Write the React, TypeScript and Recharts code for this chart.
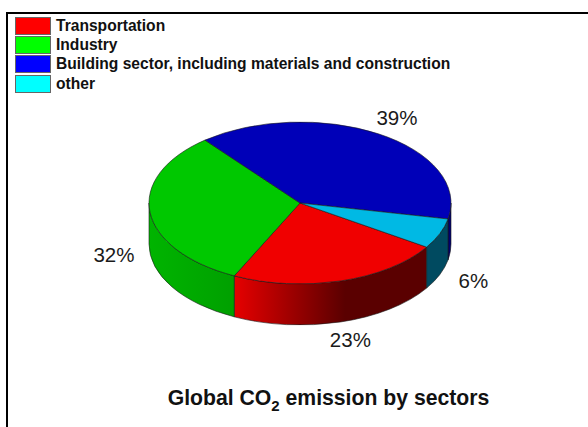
import { Legend, Pie, PieChart } from "recharts";

// Global CO2 emission shares, in percent
const sectors = [
  "Transportation",
  "Industry",
  "Building sector, including materials and construction",
  "other",
];
const shares = [23, 32, 39, 6];
const topColors = ["#f00000", "#00c800", "#0000b8", "#00b9e4"];
const swatchColors = ["#ff0000", "#00ff00", "#0000ff", "#00ffff"];
const wallFills = ["url(#wallRed)", "url(#wallGreen)", "#00006e", "#004a60"];

const data = sectors.map((name, i) => ({ name, value: shares[i], fill: topColors[i] }));

const RX = 151;
const SQUASH = 0.536;
const DEPTH = 41;
const FONT = "'Liberation Sans', Arial, sans-serif";

// point on the top ellipse, angle in degrees counter-clockwise from east
const pt = (cx: number, cy: number, deg: number, dy = 0) => {
  const r = (deg * Math.PI) / 180;
  return [cx + RX * Math.cos(r), cy - RX * SQUASH * Math.sin(r) + dy];
};

const arc = (to: number[], sweep: number, large: number) =>
  `A ${RX} ${RX * SQUASH} 0 ${large} ${sweep} ${to[0]} ${to[1]}`;

// Sector drawn as a squashed slice plus the visible part of its side wall
function Slice(props: any) {
  const { cx, cy, startAngle, endAngle, fill, name } = props;
  const hi = Math.max(startAngle, endAngle);
  const lo = Math.min(startAngle, endAngle);
  const a = pt(cx, cy, hi);
  const b = pt(cx, cy, lo);
  const large = hi - lo > 180 ? 1 : 0;
  const top = `M ${cx} ${cy} L ${a[0]} ${a[1]} ${arc(b, 1, large)} Z`;

  // the wall only shows on the front half of the rim (180..360 degrees)
  const walls: string[] = [];
  for (const k of [-360, 0]) {
    const from = Math.max(lo, k - 180);
    const to = Math.min(hi, k);
    if (to > from) {
      const p = pt(cx, cy, to);
      const q = pt(cx, cy, from);
      const q2 = pt(cx, cy, from, DEPTH);
      const p2 = pt(cx, cy, to, DEPTH);
      walls.push(
        `M ${p[0]} ${p[1]} ${arc(q, 1, 0)} L ${q2[0]} ${q2[1]} ${arc(p2, 0, 0)} Z`
      );
    }
  }

  return (
    <g>
      {walls.map((d) => (
        <path key={d} d={d} fill={wallFills[sectors.indexOf(name)]} stroke="#1a1a1a" strokeWidth={0.6} />
      ))}
      <path d={top} fill={fill} stroke="#1a1a1a" strokeWidth={0.6} />
    </g>
  );
}

// Percent label placed around the rim, pushed below the wall on the front half
function PercentLabel(props: any) {
  const { cx, cy, midAngle, value } = props;
  const [x, y] = pt(cx, cy, midAngle);
  const lower = Math.sin((midAngle * Math.PI) / 180) < 0;
  return (
    <text
      x={cx + (x - cx) * 1.24}
      y={cy + (y - cy) * 1.24 + (lower ? DEPTH - 1 : 0)}
      textAnchor="middle"
      dominantBaseline="central"
      fontFamily={FONT}
      fontSize={20.5}
      fill="#1a1a1a"
    >
      {value}%
    </text>
  );
}

function SectorLegend() {
  return (
    <div style={{ fontFamily: FONT, fontWeight: 700, fontSize: 15.6, color: "#111" }}>
      {sectors.map((name, i) => (
        <div key={name} style={{ display: "flex", alignItems: "center", height: 19.3 }}>
          <span
            style={{
              width: 34,
              height: 16,
              marginRight: 5,
              background: swatchColors[i],
              border: "1px solid #666",
              flex: "none",
            }}
          />
          <span style={{ whiteSpace: "nowrap" }}>{name}</span>
        </div>
      ))}
    </div>
  );
}

export default function App() {
  return (
    <div style={{ position: "absolute", left: 0, top: 0, width: 588, height: 427, background: "#fff", overflow: "hidden" }}>
      <PieChart width={588} height={427} margin={{ top: 0, right: 0, bottom: 0, left: 0 }}>
        <defs>
          <linearGradient id="wallRed" gradientUnits="userSpaceOnUse" x1={234} x2={345} y1={0} y2={0}>
            <stop offset="0%" stopColor="#e60000" />
            <stop offset="100%" stopColor="#5a0000" />
          </linearGradient>
          <linearGradient id="wallGreen" gradientUnits="userSpaceOnUse" x1={149} x2={234} y1={0} y2={0}>
            <stop offset="0%" stopColor="#00b400" />
            <stop offset="100%" stopColor="#00a000" />
          </linearGradient>
        </defs>
        <rect x={7} y={13} width={600} height={440} fill="none" stroke="#000" strokeWidth={2} />
        {/* centred in both directions so the legend reserves no space in the plot area */}
        <Legend
          content={SectorLegend}
          layout="vertical"
          align="center"
          verticalAlign="middle"
          wrapperStyle={{ left: 15, top: 16, width: 500 }}
        />
        <Pie
          data={data}
          dataKey="value"
          nameKey="name"
          cx={300}
          cy={203}
          outerRadius={RX}
          startAngle={-33}
          endAngle={-393}
          shape={Slice}
          label={PercentLabel}
          labelLine={false}
          isAnimationActive={false}
        />
        <text x={328.5} y={405} textAnchor="middle" fontFamily={FONT} fontWeight={700} fontSize={21.2} fill="#111">
          Global CO
          <tspan dy={6} fontSize={15}>2</tspan>
          <tspan dy={-6}> emission by sectors</tspan>
        </text>
      </PieChart>
    </div>
  );
}
